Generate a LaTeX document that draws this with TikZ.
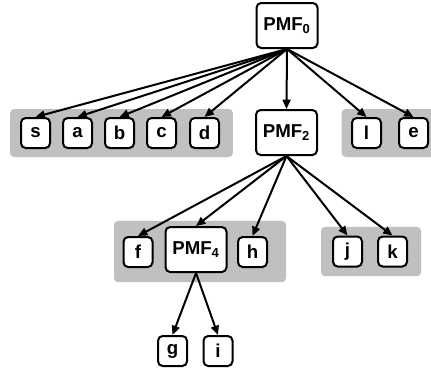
\documentclass[tikz,border=0pt]{standalone}
\usepackage{fontspec}
\setmainfont{Liberation Sans}
\usetikzlibrary{arrows.meta,positioning}
\definecolor{ptGrey} {RGB}{192,192,192}
\definecolor{ptBlack}{RGB}{  0,  0,  0}

\begin{document}
\begin{tikzpicture}[
  x=0.75pt,y=-0.75pt,
  every node/.style={font=\fontsize{14}{16}\selectfont\bfseries},
  grp/.style={fill=ptGrey,rounded corners=3pt,inner sep=0pt},
  leaf/.style={draw=ptBlack,fill=white,line width=1.5pt,rounded corners=3.5pt,
               inner sep=0pt,minimum width=21.75pt,minimum height=22.5pt},
  pmf/.style={leaf,minimum width=45.75pt,minimum height=33.75pt},
  arr/.style={-{Triangle[length=7pt,width=6pt]},line width=1.5pt,ptBlack}
]
\useasboundingbox (0,0) rectangle (431,372);
% grey groups behind the leaves
\node[grp,minimum width=167pt,minimum height=36pt] (G1) at (121.5,133) {};
\node[grp,minimum width=74pt, minimum height=36pt] (G2) at (391,133) {};
\node[grp,minimum width=129pt,minimum height=46pt] (G3) at (200,251.5) {};
\node[grp,minimum width=75pt, minimum height=37pt] (G4) at (371,251.5) {};
% root
\node[pmf] (P0) at (287,25.5) {PMF\textsubscript{0}};
% first level
\node[leaf] (s) at ( 35.5,133) {s};
\node[leaf] (a) at ( 77.5,133) {a};
\node[leaf] (b) at (119.5,133) {b};
\node[leaf] (c) at (161.5,133) {c};
\node[leaf] (d) at (204.5,133) {d};
\node[pmf]  (P2) at (286.5,132.5) {PMF\textsubscript{2}};
\node[leaf] (l) at (366.5,133) {l};
\node[leaf] (e) at (413.5,133) {e};
% second level
\node[leaf] (f) at (138,252) {f};
\node[pmf]  (P4) at (196,249.5) {PMF\textsubscript{4}};
\node[leaf] (h) at (252.5,252) {h};
\node[leaf] (j) at (347.5,251.5) {j};
\node[leaf] (k) at (392.5,251.5) {k};
% third level
\node[leaf] (g) at (172.5,351) {g};
\node[leaf] (i) at (218,351) {i};
% edges
\foreach \n in {s,a,b,c,d,P2,l,e}
  \draw[arr] (P0.south) -- (\n.north);
\foreach \n in {f,P4,h,j,k}
  \draw[arr] (P2.south) -- (\n.north);
\foreach \n in {g,i}
  \draw[arr] (P4.south) -- (\n.north);
\end{tikzpicture}
\end{document}
